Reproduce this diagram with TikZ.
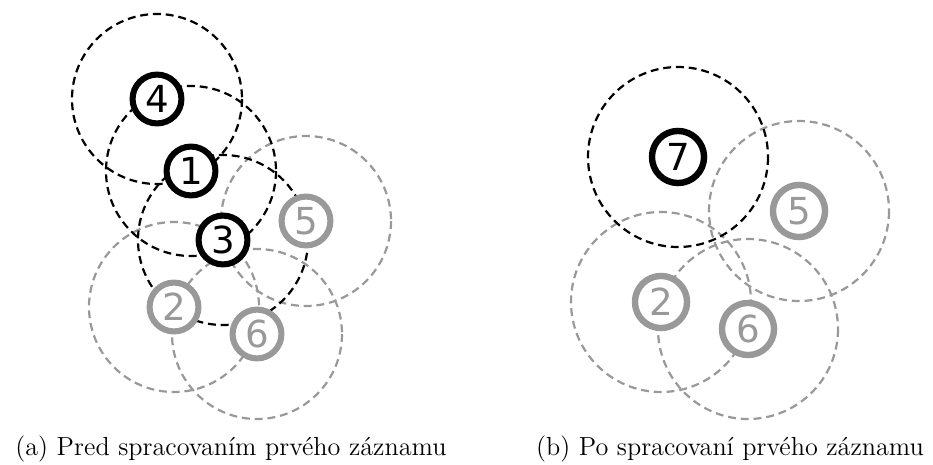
\documentclass[tikz,border=0pt]{standalone}
\usepackage{fontspec}
\newfontfamily\numfont{DejaVu Sans}
\definecolor{lgray}{RGB}{153,153,153}
\tikzset{
  rangecircle/.style={draw, line width=0.95pt, dash pattern=on 3.4pt off 2.1pt},
  blackrange/.style={rangecircle, draw=black},
  grayrange/.style={rangecircle, draw=lgray},
  ptnode/.style={circle, draw, fill=white, inner sep=0pt, minimum size=21pt, line width=2.6pt, font=\numfont\fontsize{16}{19}\selectfont},
  ptb/.style={ptnode, draw=black, text=black},
  ptg/.style={ptnode, draw=lgray, text=lgray},
  bignode/.style={minimum size=22.4pt, line width=2.75pt},
  captext/.style={anchor=base, inner sep=0pt, font=\fontsize{11.25}{14}\selectfont}
}
\begin{document}
\begin{tikzpicture}[x=0.43pt, y=-0.43pt]
\useasboundingbox (0,0) rectangle (933,464);
% left panel coordinates
\coordinate (c4) at (157,99);
\coordinate (c1) at (191,171);
\coordinate (c3) at (223,240);
\coordinate (c5) at (306,221);
\coordinate (c2) at (174,307);
\coordinate (c6) at (257,334);
% right panel coordinates
\coordinate (d7) at (678,157);
\coordinate (d5) at (799,211);
\coordinate (d2) at (661,302);
\coordinate (d6) at (748,329);
% ranges
\draw[grayrange] (c5) circle[radius=85];
\draw[grayrange] (c2) circle[radius=85];
\draw[grayrange] (c6) circle[radius=85];
\draw[blackrange] (c4) circle[radius=85];
\draw[blackrange] (c1) circle[radius=85];
\draw[blackrange] (c3) circle[radius=85];
\draw[grayrange] (d5) circle[radius=90];
\draw[grayrange] (d2) circle[radius=90];
\draw[grayrange] (d6) circle[radius=90];
\draw[blackrange] (d7) circle[radius=90];
% nodes
\node[ptb] (n4) at (c4) {4};
\node[ptb] (n1) at (c1) {1};
\node[ptb] (n3) at (c3) {3};
\node[ptg] (n5) at (c5) {5};
\node[ptg] (n2) at (c2) {2};
\node[ptg] (n6) at (c6) {6};
\node[ptb, bignode] (m7) at (d7) {7};
\node[ptg, bignode] (m5) at (d5) {5};
\node[ptg, bignode] (m2) at (d2) {2};
\node[ptg, bignode] (m6) at (d6) {6};
% captions
\node[captext] (capa) at (231,455) {(a) Pred spracovaním prvého záznamu};
\node[captext] (capb) at (730,455) {(b) Po spracovaní prvého záznamu};
\end{tikzpicture}
\end{document}
